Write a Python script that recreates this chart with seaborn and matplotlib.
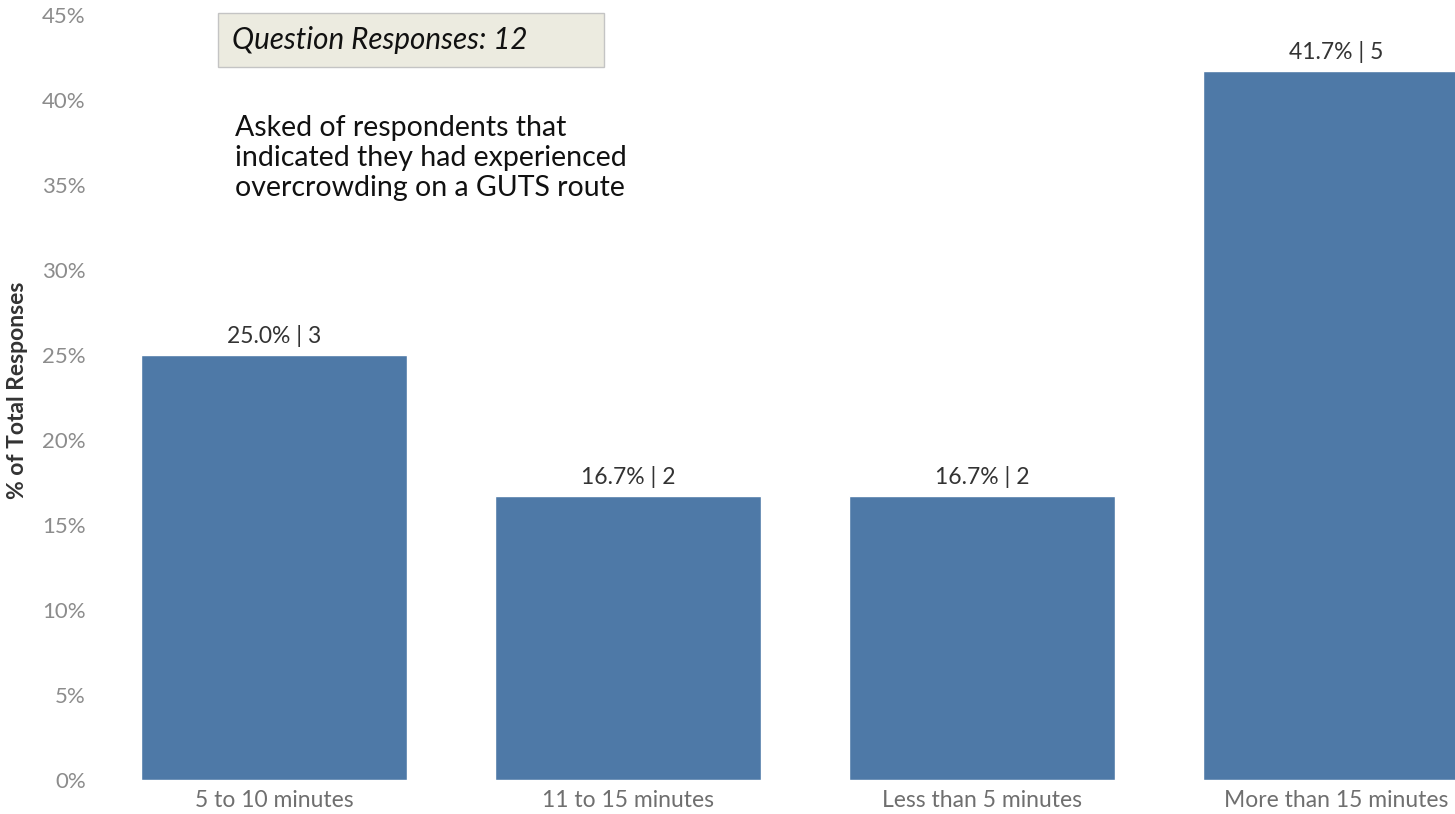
import matplotlib
matplotlib.use("Agg")
import matplotlib.pyplot as plt
from matplotlib.patches import FancyBboxPatch
import seaborn as sns
import pandas as pd

# Survey results: wait time categories, share of responses and counts
categories = ["5 to 10 minutes", "11 to 15 minutes", "Less than 5 minutes", "More than 15 minutes"]
percent = [25.0, 16.7, 16.7, 41.7]
counts = [3, 2, 2, 5]
y_ticks = [0, 5, 10, 15, 20, 25, 30, 35, 40, 45]
total_responses = 12

df = pd.DataFrame({"category": categories, "percent": percent, "count": counts})

sns.set_theme(style="white")
plt.rcParams["font.family"] = ["Lato", "DejaVu Sans"]

W, H = 1455, 814
fig = plt.figure(figsize=(W / 100, H / 100), dpi=100)
ax = fig.add_axes([97 / W, (H - 780) / H, 1 - 97 / W, 780 / H])

sns.barplot(data=df, x="category", y="percent", order=categories,
            color="#4e79a7", saturation=1, width=0.751, ax=ax)

ax.set_xlim(-0.5, (W - 97) / 354 - 0.5)
ax.set_ylim(0, 780 / 17)
ax.set_yticks(y_ticks)
ax.set_yticklabels([f"{t}%" for t in y_ticks], color="#8c8c8c", fontsize=16)
ax.tick_params(axis="y", length=0, pad=8)
ax.tick_params(axis="x", length=0, pad=7, labelsize=16.5, labelcolor="#6f6f6f")
ax.set_xlabel("")
ax.set_ylabel("% of Total Responses", fontsize=16.5, color="#333333",
              fontweight="bold", labelpad=10)
for s in ax.spines.values():
    s.set_visible(False)
ax.grid(False)

# value labels above each bar
for i, (p, c) in enumerate(zip(percent, counts)):
    ax.annotate(f"{p:.1f}% | {c}", xy=(i, p), xytext=(0, 6),
                textcoords="offset points", ha="center", va="bottom",
                fontsize=16.5, color="#333333")

# response-count box
box = FancyBboxPatch((218 / W, 1 - 67 / H), (604 - 218) / W, (67 - 13) / H,
                     boxstyle="square,pad=0", transform=fig.transFigure,
                     facecolor="#ecebe0", edgecolor="#c4c4c4", linewidth=1)
fig.patches.append(box)
fig.text(232 / W, 1 - 40 / H, f"Question Responses: {total_responses}",
         fontsize=21.3, style="italic", color="#111111", va="center", ha="left")

fig.text(235 / W, 1 - 115 / H,
         "Asked of respondents that\nindicated they had experienced\novercrowding on a GUTS route",
         fontsize=20.5, color="#111111", va="top", ha="left", linespacing=1.2)

fig.savefig("out.png", dpi=100)
